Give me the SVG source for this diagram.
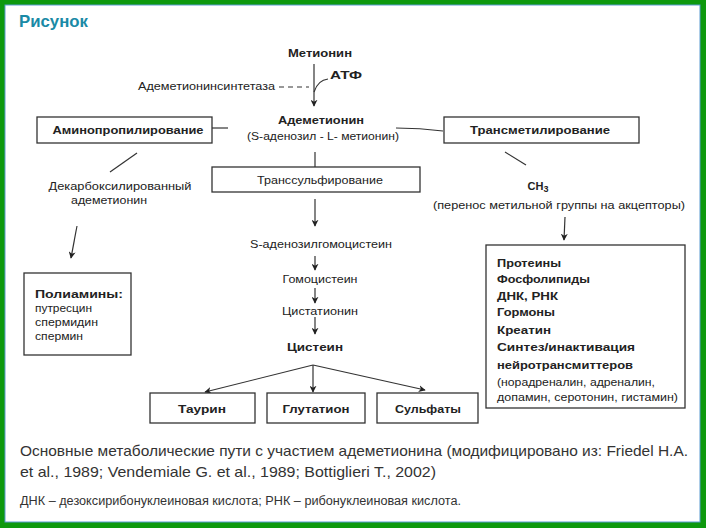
<svg xmlns="http://www.w3.org/2000/svg" width="706" height="528" viewBox="0 0 706 528">
<defs>
<marker id="ah" viewBox="0 0 10 10" refX="9" refY="5" markerWidth="7" markerHeight="7" orient="auto" markerUnits="userSpaceOnUse">
<path d="M0,0 L10,5 L0,10 L3,5 Z" fill="#222"/>
</marker>
<style>
.t{font-family:"Liberation Sans",Arial,sans-serif;font-size:11px;fill:#222}
.b{font-weight:bold}
.c{text-anchor:middle}
.box{fill:#fff;stroke:#333;stroke-width:1.3}
.ln{fill:none;stroke:#333;stroke-width:1.2}
.ar{fill:none;stroke:#333;stroke-width:1.2;marker-end:url(#ah)}
.cap{font-family:"Liberation Sans",Arial,sans-serif;fill:#333}
</style>
</defs>
<rect x="0" y="0" width="706" height="528" fill="#0e990e"/>
<rect x="5" y="5" width="695" height="517" fill="#fff" stroke="#5b9bd0" stroke-width="1"/>
<text x="19" y="27" font-family="Liberation Sans,Arial,sans-serif" font-size="17" font-weight="bold" fill="#1a8aa6" textLength="69" lengthAdjust="spacingAndGlyphs">Рисунок</text>

<g id="connectors">
<path class="ar" d="M314,64 L314,106"/>
<path class="ln" d="M279,87 L309,87" stroke-dasharray="5,4"/>
<path class="ln" d="M314,92 Q318,80 328,79"/>
<path class="ln" d="M212,128 L228,128"/>
<path class="ln" d="M396,128 Q420,128 443,131"/>
<path class="ln" d="M315,152 L315,167"/>
<path class="ar" d="M315,199 L315,226"/>
<path class="ar" d="M315,256 L315,270"/>
<path class="ar" d="M315,288 L315,303"/>
<path class="ar" d="M315,317 L315,334"/>
<path class="ln" d="M137,153 L110,172"/>
<path class="ar" d="M77,226 L71,258"/>
<path class="ln" d="M505,152 L526,165"/>
<path class="ar" d="M565,217 L564,240"/>
<path class="ar" d="M313,365 L205,392"/>
<path class="ar" d="M313,365 L313,392"/>
<path class="ar" d="M313,365 L425,390"/>
</g>

<g id="metionin"><text class="t b c" x="320" y="57" textLength="64" lengthAdjust="spacingAndGlyphs">Метионин</text></g>
<g id="atf"><text class="t b" x="330" y="79" textLength="32" lengthAdjust="spacingAndGlyphs">АТФ</text></g>
<g id="sintetaza"><text class="t" x="138" y="90" textLength="137" lengthAdjust="spacingAndGlyphs">Адеметионинсинтетаза</text></g>
<g id="ademetionin">
<text class="t b c" x="321" y="124" textLength="86" lengthAdjust="spacingAndGlyphs">Адеметионин</text>
<text class="t c" x="323" y="140" textLength="152" lengthAdjust="spacingAndGlyphs">(S-аденозил - L- метионин)</text>
</g>
<g id="aminoprop">
<rect class="box" x="37" y="117" width="175" height="26"/>
<text class="t b c" x="128" y="134" textLength="151" lengthAdjust="spacingAndGlyphs">Аминопропилирование</text>
</g>
<g id="transmet">
<rect class="box" x="444" y="117" width="195" height="26"/>
<text class="t b c" x="540" y="134" textLength="140" lengthAdjust="spacingAndGlyphs">Трансметилирование</text>
</g>
<g id="transsulf">
<rect class="box" x="212" y="167" width="208" height="25"/>
<text class="t c" x="320" y="184" textLength="126" lengthAdjust="spacingAndGlyphs">Транссульфирование</text>
</g>
<g id="dekarb">
<text class="t c" x="120" y="190" textLength="143" lengthAdjust="spacingAndGlyphs">Декарбоксилированный</text>
<text class="t c" x="109" y="204" textLength="76" lengthAdjust="spacingAndGlyphs">адеметионин</text>
</g>
<g id="ch3">
<text class="t b c" x="538" y="190" font-size="12">CH<tspan font-size="9" dy="2">3</tspan></text>
<text class="t c" x="559" y="209" textLength="252" lengthAdjust="spacingAndGlyphs">(перенос метильной группы на акцепторы)</text>
</g>
<g id="sah"><text class="t c" x="321" y="248" textLength="142" lengthAdjust="spacingAndGlyphs">S-аденозилгомоцистеин</text></g>
<g id="homocys"><text class="t c" x="320" y="283" textLength="75" lengthAdjust="spacingAndGlyphs">Гомоцистеин</text></g>
<g id="cystathionin"><text class="t c" x="320" y="315" textLength="76" lengthAdjust="spacingAndGlyphs">Цистатионин</text></g>
<g id="cystein"><text class="t b c" x="315" y="351" textLength="56" lengthAdjust="spacingAndGlyphs">Цистеин</text></g>
<g id="poliaminy">
<rect class="box" x="24" y="273" width="107" height="82"/>
<text class="t b" x="35" y="298" textLength="88" lengthAdjust="spacingAndGlyphs">Полиамины:</text>
<text class="t" x="35" y="312" textLength="57" lengthAdjust="spacingAndGlyphs">путресцин</text>
<text class="t" x="35" y="326" textLength="63" lengthAdjust="spacingAndGlyphs">спермидин</text>
<text class="t" x="35" y="340" textLength="48" lengthAdjust="spacingAndGlyphs">спермин</text>
</g>
<g id="akceptory">
<rect class="box" x="486" y="245" width="199" height="163"/>
<text class="t b" x="497" y="267" textLength="64" lengthAdjust="spacingAndGlyphs">Протеины</text>
<text class="t b" x="497" y="283" textLength="93" lengthAdjust="spacingAndGlyphs">Фосфолипиды</text>
<text class="t b" x="497" y="300" textLength="61" lengthAdjust="spacingAndGlyphs">ДНК, РНК</text>
<text class="t b" x="497" y="316" textLength="58" lengthAdjust="spacingAndGlyphs">Гормоны</text>
<text class="t b" x="497" y="334" textLength="54" lengthAdjust="spacingAndGlyphs">Креатин</text>
<text class="t b" x="497" y="351" textLength="138" lengthAdjust="spacingAndGlyphs">Синтез/инактивация</text>
<text class="t b" x="497" y="369" textLength="136" lengthAdjust="spacingAndGlyphs">нейротрансмиттеров</text>
<text class="t" x="497" y="386" textLength="158" lengthAdjust="spacingAndGlyphs">(норадреналин, адреналин,</text>
<text class="t" x="497" y="401" textLength="181" lengthAdjust="spacingAndGlyphs">допамин, серотонин, гистамин)</text>
</g>
<g id="taurin">
<rect class="box" x="150" y="393" width="105" height="30"/>
<text class="t b c" x="202" y="413" textLength="48" lengthAdjust="spacingAndGlyphs">Таурин</text>
</g>
<g id="glutation">
<rect class="box" x="267" y="393" width="98" height="30"/>
<text class="t b c" x="316" y="413" textLength="67" lengthAdjust="spacingAndGlyphs">Глутатион</text>
</g>
<g id="sulfaty">
<rect class="box" x="377" y="393" width="101" height="30"/>
<text class="t b c" x="428" y="413" textLength="66" lengthAdjust="spacingAndGlyphs">Сульфаты</text>
</g>

<text class="cap" x="20" y="456" font-size="15" textLength="668" lengthAdjust="spacingAndGlyphs">Основные метаболические пути с участием адеметионина (модифицировано из: Friedel H.A.</text>
<text class="cap" x="20" y="477" font-size="15" textLength="416" lengthAdjust="spacingAndGlyphs">et al., 1989; Vendemiale G. et al., 1989; Bottiglieri T., 2002)</text>
<text class="cap" x="20" y="505" font-size="12" textLength="441" lengthAdjust="spacingAndGlyphs">ДНК – дезоксирибонуклеиновая кислота; РНК – рибонуклеиновая кислота.</text>
</svg>
